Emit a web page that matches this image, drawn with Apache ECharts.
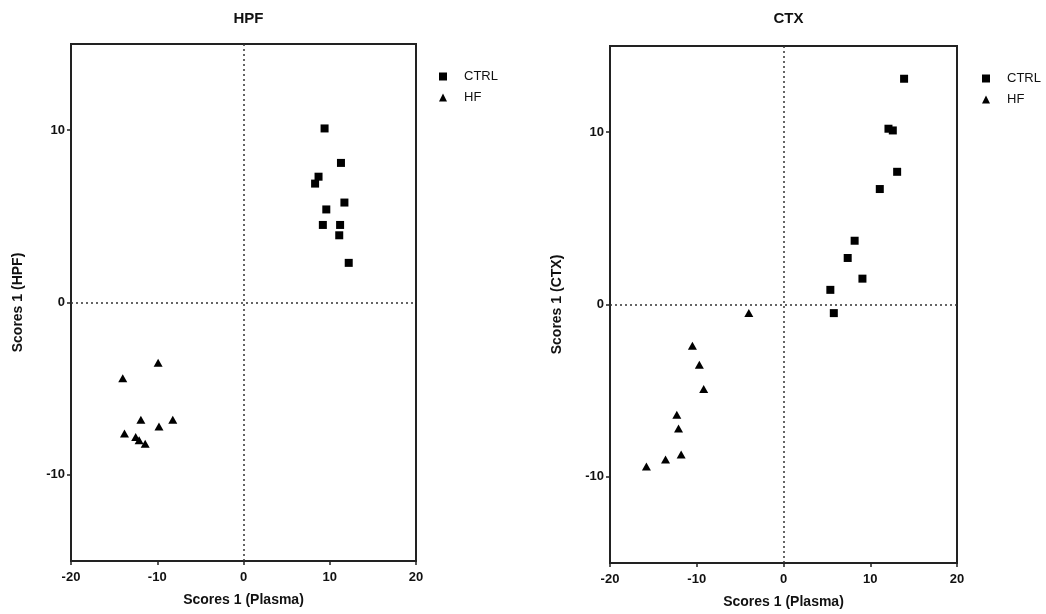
<!DOCTYPE html>
<html><head><meta charset="utf-8">
<script src="https://cdn.jsdelivr.net/npm/echarts@6/dist/echarts.min.js"></script>
<style>html,body{margin:0;padding:0;background:#fff}#c{width:1046px;height:614px}</style>
</head><body><div id="c"></div>
<script>
// Panel titles and axis names
const panelTitles = ['HPF', 'CTX'];
const yAxisNames = ['Scores 1 (HPF)', 'Scores 1 (CTX)'];
const xAxisName = 'Scores 1 (Plasma)';
const seriesNames = ['CTRL', 'HF'];
const xTicks = [-20, -10, 0, 10, 20];
const yTicks = [-10, 0, 10];

// HPF panel
const hpfCtrl = [[9.4,10.1],[11.3,8.1],[8.7,7.3],[8.3,6.9],[11.7,5.8],[9.6,5.4],[9.2,4.5],[11.2,4.5],[11.1,3.9],[12.2,2.3]];
const hpfHf = [[-9.9,-3.5],[-14.0,-4.4],[-11.9,-6.8],[-8.2,-6.8],[-9.8,-7.2],[-13.8,-7.6],[-12.5,-7.8],[-12.1,-8.0],[-11.4,-8.2]];
// CTX panel
const ctxCtrl = [[13.9,13.1],[12.1,10.2],[12.6,10.1],[13.1,7.7],[11.1,6.7],[8.2,3.7],[7.4,2.7],[9.1,1.5],[5.4,0.85],[5.8,-0.5]];
const ctxHf = [[-4.0,-0.5],[-10.5,-2.4],[-9.7,-3.5],[-9.2,-4.9],[-12.3,-6.4],[-12.1,-7.2],[-11.8,-8.7],[-13.6,-9.0],[-15.8,-9.4]];

const FONT = 'Liberation Sans, Arial, sans-serif';
const AX = '#222';
const grids = [
  {left: 71, top: 44, width: 345, height: 517},
  {left: 610, top: 46, width: 347, height: 520}
];
const data = [[hpfCtrl, hpfHf], [ctxCtrl, ctxHf]];

const option = {
  backgroundColor: '#fff',
  animation: false,
  title: panelTitles.map((t, i) => ({
    text: t, left: grids[i].left + grids[i].width / 2, top: 6, textAlign: 'center',
    textStyle: {fontFamily: FONT, fontWeight: 'bold', fontSize: 15, color: '#111'}
  })),
  legend: [0, 1].map(i => ({
    orient: 'vertical', left: i === 0 ? 434 : 977, top: i === 0 ? 65 : 67,
    itemWidth: 8, itemHeight: 8, itemGap: 8,
    data: [{name: seriesNames[0] + (i ? ' ' : ''), icon: 'rect'}, {name: seriesNames[1] + (i ? ' ' : ''), icon: 'triangle'}],
    textStyle: {fontFamily: FONT, fontSize: 13, color: '#111', padding: [0, 0, 0, 12]},
    formatter: n => n.trim()
  })),
  grid: grids.map(g => Object.assign({show: true, borderColor: AX, borderWidth: 2, backgroundColor: 'transparent'}, g)),
  xAxis: [0, 1].map(i => ({
    gridIndex: i, type: 'value', min: -20, max: 20, interval: 10,
    name: xAxisName, nameLocation: 'middle', nameGap: 32,
    nameTextStyle: {fontFamily: FONT, fontWeight: 'bold', fontSize: 14, color: '#111'},
    axisLine: {show: true, onZero: false, lineStyle: {color: AX, width: 2}},
    axisTick: {show: true, length: 4, lineStyle: {color: AX, width: 1.5}},
    axisLabel: {fontFamily: FONT, fontWeight: 'bold', fontSize: 13, color: '#111', margin: 10},
    splitLine: {show: false}
  })),
  yAxis: [0, 1].map(i => ({
    gridIndex: i, type: 'value', min: -15, max: 15, interval: 5,
    name: yAxisNames[i], nameLocation: 'middle', nameGap: 46, nameRotate: 90,
    nameTextStyle: {fontFamily: FONT, fontWeight: 'bold', fontSize: 14, color: '#111'},
    axisLine: {show: true, onZero: false, lineStyle: {color: AX, width: 2}},
    axisTick: {show: true, length: 4, customValues: yTicks, lineStyle: {color: AX, width: 1.5}},
    axisLabel: {fontFamily: FONT, fontWeight: 'bold', fontSize: 13, color: '#111', margin: 6, customValues: yTicks},
    splitLine: {show: false}
  })),
  series: []
};
[0, 1].forEach(i => {
  [0, 1].forEach(s => {
    const ser = {
      type: 'scatter', name: seriesNames[s] + (i ? ' ' : ''),
      xAxisIndex: i, yAxisIndex: i,
      symbol: s === 0 ? 'rect' : 'triangle', symbolSize: s === 0 ? 8 : [9, 8],
      itemStyle: {color: '#000', opacity: 1},
      data: data[i][s]
    };
    if (s === 0) {
      ser.markLine = {
        silent: true, symbol: 'none', label: {show: false},
        lineStyle: {type: [2, 3], color: '#333', width: 1.5},
        data: [{xAxis: 0}, {yAxis: 0}]
      };
    }
    option.series.push(ser);
  });
});
const chart = echarts.init(document.getElementById('c'), null, {renderer: 'canvas'});
chart.setOption(option);
</script></body></html>
